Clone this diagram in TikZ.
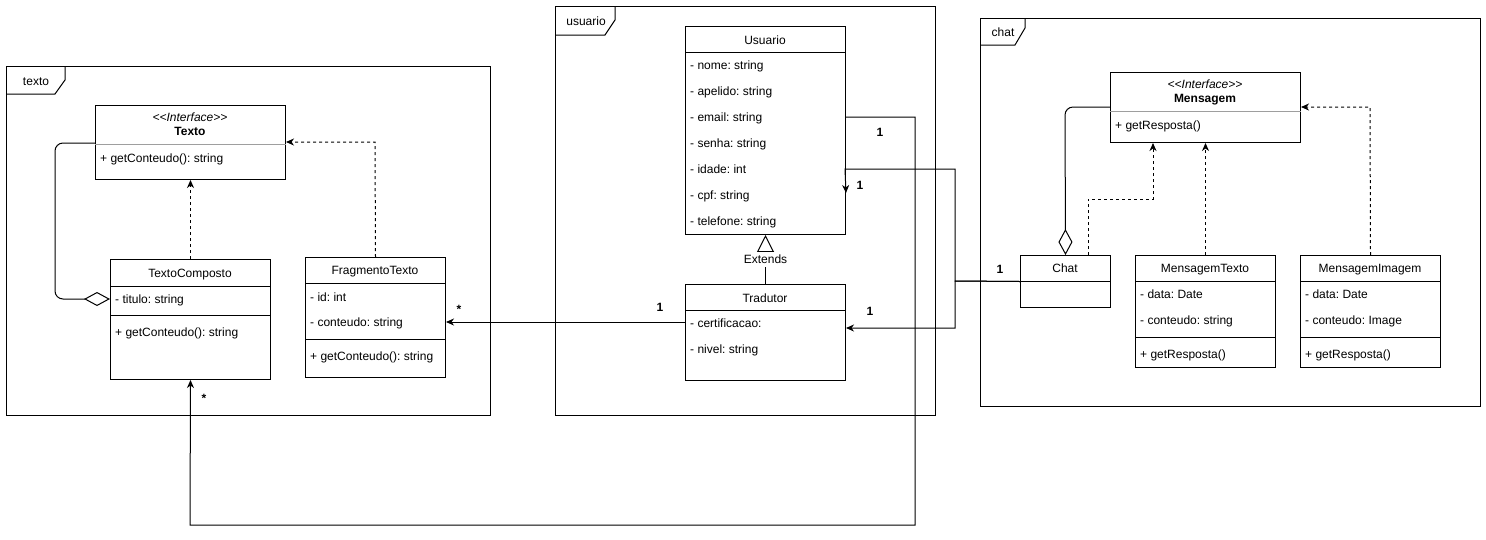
\documentclass[tikz,border=0pt]{standalone}
\usepackage{fontspec}
\setmainfont{Liberation Sans}
\usetikzlibrary{arrows.meta,positioning,calc}
\definecolor{muted}{HTML}{9E9E9E}
\newcommand{\umlfont}{\fontsize{12}{14}\selectfont}
\frenchspacing
\tikzset{
  frm/.style={draw, line width=1pt, anchor=north west, inner sep=0pt},
  tab/.style={draw, line width=1pt, line join=miter},
  cls/.style={draw, line width=1pt, anchor=north west, inner sep=0pt, fill=white},
  sep/.style={draw, line width=1pt},
  sepi/.style={draw=muted, line width=1pt},
  lab/.style={inner sep=0pt, font=\umlfont, text height=8.6pt, text depth=0.6pt},
  attr/.style={lab, anchor=west},
  stereo/.style={lab, font=\umlfont\itshape},
  bold/.style={lab, font=\umlfont\bfseries},
  mult/.style={lab, font=\umlfont\bfseries},
  assoc/.style={draw, line width=1pt, -{Stealth[length=8pt,width=7pt,inset=2.5pt]}},
  real/.style={assoc, dashed},
  agg/.style={draw, line width=1pt, rounded corners=8pt, -{Diamond[open,length=26pt,width=14pt]}},
  gen/.style={draw, line width=1pt, -{Triangle[open,length=17pt,width=17pt]}},
}

\begin{document}
\begin{tikzpicture}[x=1pt,y=-1pt]
  \useasboundingbox (0,0) rectangle (1486,539);

  % packages
  \node[frm, minimum width=484pt, minimum height=349pt] (pkgTexto) at (6,66) {};
  \draw[tab] (6,94) -- (55,94) -- (65,80) -- (65,66);
  \node[lab] (lblTexto) at (36,81) {texto};

  \node[frm, minimum width=380pt, minimum height=409pt] (pkgUsuario) at (555,6) {};
  \draw[tab] (555,35) -- (605,35) -- (615,20) -- (615,6);
  \node[lab] (lblUsuario) at (586,21) {usuario};

  \node[frm, minimum width=500pt, minimum height=388pt] (pkgChat) at (980,18) {};
  \draw[tab] (980,45) -- (1015,45) -- (1025,28) -- (1025,18);
  \node[lab] (lblChat) at (1003,32) {chat};

  % texto
  \node[cls, minimum width=190pt, minimum height=74pt] (texto) at (95,105) {};
  \node[stereo] (txStereo) at (190,117) {{<}{<}Interface{>}{>}};
  \node[bold] (txName) at (190,131) {Texto};
  \draw[sepi] (texto.west |- 0,144) -- (texto.east |- 0,144);
  \node[attr] (txGet) at (100,158) {+ getConteudo(): string};

  \node[cls, minimum width=160pt, minimum height=120pt] (tcomp) at (110,259) {};
  \node[lab] (tcName) at (190,273) {TextoComposto};
  \draw[sep] (tcomp.west |- 0,286) -- (tcomp.east |- 0,286);
  \node[attr] (tcTitulo) at (115,299) {- titulo: string};
  \draw[sep] (tcomp.west |- 0,315) -- (tcomp.east |- 0,315);
  \node[attr] (tcGet) at (115,332) {+ getConteudo(): string};

  \node[cls, minimum width=140pt, minimum height=120pt] (frag) at (305,257) {};
  \node[lab] (fgName) at (375,270) {FragmentoTexto};
  \draw[sep] (frag.west |- 0,283) -- (frag.east |- 0,283);
  \node[attr] (fgId) at (310,297) {- id: int};
  \node[attr] (fgConteudo) at (310,322) {- conteudo: string};
  \draw[sep] (frag.west |- 0,339) -- (frag.east |- 0,339);
  \node[attr] (fgGet) at (310,356) {+ getConteudo(): string};

  % usuario
  \node[cls, minimum width=160pt, minimum height=208pt] (usuario) at (685,26) {};
  \node[lab] (usName) at (765,40) {Usuario};
  \draw[sep] (usuario.west |- 0,52) -- (usuario.east |- 0,52);
  \node[attr] (usNome) at (690,65) {- nome: string};
  \node[attr] (usApelido) at (690,91) {- apelido: string};
  \node[attr] (usEmail) at (690,117) {- email: string};
  \node[attr] (usSenha) at (690,143) {- senha: string};
  \node[attr] (usIdade) at (690,169) {- idade: int};
  \node[attr] (usCpf) at (690,195) {- cpf: string};
  \node[attr] (usTelefone) at (690,221) {- telefone: string};

  \node[cls, minimum width=160pt, minimum height=96pt] (tradutor) at (685,284) {};
  \node[lab] (trName) at (765,298) {Tradutor};
  \draw[sep] (tradutor.west |- 0,310) -- (tradutor.east |- 0,310);
  \node[attr] (trCert) at (690,323) {- certificacao:};
  \node[attr] (trNivel) at (690,349) {- nivel: string};

  % chat
  \node[cls, minimum width=190pt, minimum height=70pt] (mensagem) at (1110,72) {};
  \node[stereo] (msStereo) at (1205,84) {{<}{<}Interface{>}{>}};
  \node[bold] (msName) at (1205,98) {Mensagem};
  \draw[sepi] (mensagem.west |- 0,111) -- (mensagem.east |- 0,111);
  \node[attr] (msGet) at (1115,125) {+ getResposta()};

  \node[cls, minimum width=90pt, minimum height=52pt] (chat) at (1020,255) {};
  \node[lab] (chName) at (1065,268) {Chat};
  \draw[sep] (chat.west |- 0,281) -- (chat.east |- 0,281);

  \node[cls, minimum width=140pt, minimum height=112pt] (mtexto) at (1135,255) {};
  \node[lab] (mtName) at (1205,268) {MensagemTexto};
  \draw[sep] (mtexto.west |- 0,281) -- (mtexto.east |- 0,281);
  \node[attr] (mtData) at (1140,294) {- data: Date};
  \node[attr] (mtConteudo) at (1140,320) {- conteudo: string};
  \draw[sep] (mtexto.west |- 0,337) -- (mtexto.east |- 0,337);
  \node[attr] (mtGet) at (1140,354) {+ getResposta()};

  \node[cls, minimum width=140pt, minimum height=112pt] (mimagem) at (1300,255) {};
  \node[lab] (miName) at (1370,268) {MensagemImagem};
  \draw[sep] (mimagem.west |- 0,281) -- (mimagem.east |- 0,281);
  \node[attr] (miData) at (1305,294) {- data: Date};
  \node[attr] (miConteudo) at (1305,320) {- conteudo: Image};
  \draw[sep] (mimagem.west |- 0,337) -- (mimagem.east |- 0,337);
  \node[attr] (miGet) at (1305,354) {+ getResposta()};

  % connectors
  \draw[agg] (texto.west |- 0,143) -- (55,143) -- (55,299) -- (tcomp.west |- tcTitulo);
  \draw[real] (tcomp.north) -- (texto.south);
  \draw[real] (frag.north) -- (375,142) -- (texto.east |- 0,142);
  \draw[assoc] (tradutor.west |- 0,322) -- (frag.east |- fgConteudo);
  \draw[gen] (tradutor.north) -- node[lab, fill=white, inner ysep=3pt] (lblExtends) {Extends} (usuario.south);
  \draw[assoc] (usuario.east |- usEmail) -- (915,117) -- (915,525) -- (190,525) -- (tcomp.south);
  \draw[assoc] (chat.west) -- (955,281) -- (955,169) -- (845,169) -- (usuario.east |- 0,193);
  \draw[assoc] (chat.west) -- (955,281) -- (955,328) -- (tradutor.east |- 0,328);
  \draw[agg] (mensagem.west |- 0,107) -- (1065,107) -- (chat.north);
  \draw[real] (chat.north -| 1088,0) -- (1088,199) -- (1153,199) -- (mensagem.south -| 1153,0);
  \draw[real] (mtexto.north) -- (mensagem.south);
  \draw[real] (mimagem.north) -- (1370,107) -- (mensagem.east |- 0,107);

  % multiplicities
  \node[mult] (mUsEmail) at (880,132) {1};
  \node[mult] (mUsChat) at (860,185) {1};
  \node[mult] (mTrChat) at (870,311) {1};
  \node[mult] (mTrFrag) at (660,307) {1};
  \node[mult] (mFrag) at (459,309) {*};
  \node[mult] (mTcomp) at (204,398) {*};
  \node[mult] (mChat) at (1000,269) {1};
\end{tikzpicture}
\end{document}
